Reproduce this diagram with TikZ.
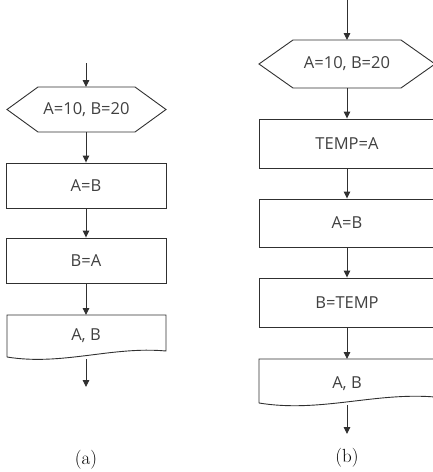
\documentclass[tikz,border=0pt]{standalone}
\usepackage{fontspec}
\newfontfamily\boxfont{Open Sans}
\usetikzlibrary{arrows.meta}
\definecolor{linegray}{HTML}{303030}
\definecolor{textgray}{HTML}{404040}
\tikzset{
  flowline/.style={draw=linegray, line width=0.9pt},
  flowarrow/.style={flowline, -{Triangle[length=7pt,width=6.5pt]}},
  txt/.style={font=\boxfont\fontsize{16.5}{19}\selectfont, text=textgray, inner sep=0pt},
  procbox/.style={flowline, rectangle, inner sep=0pt, txt, text=textgray},
  caption/.style={font=\fontsize{19}{22}\selectfont, inner sep=0pt},
}
\begin{document}
\begin{tikzpicture}[x=1pt,y=-1pt]
\useasboundingbox (0,0) rectangle (433,472);
\clip (0,0) rectangle (433,472);

% ---------- (a): swap without a temporary ----------
\coordinate (a0) at (86,63);
\node[txt] (ah) at (86.5,109.5) {A=10, B=20};
\draw[flowline] (7,109.5) -- (38,87) -- (135,87) -- (166,109.5) -- (135,132) -- (38,132) -- cycle;
\coordinate (ahN) at (86,87);
\coordinate (ahS) at (86,132);
\node[procbox, minimum width=160pt, minimum height=45pt] (a1) at (86,185.5) {A=B};
\node[procbox, minimum width=160pt, minimum height=45pt] (a2) at (86,260.5) {B=A};
\node[txt] (ad) at (86,336) {A, B};
\draw[flowline] (7,357) -- (7,315) -- (166,315) -- (166,351)
  .. controls (112,346) and (62,366) .. (7,357);
\coordinate (adN) at (86,315);
\coordinate (adS) at (86,359);
\coordinate (aend) at (86,387);
\draw[flowarrow] (a0) -- (ahN);
\draw[flowarrow] (ahS) -- (a1.north);
\draw[flowarrow] (a1.south) -- (a2.north);
\draw[flowarrow] (a2.south) -- (adN);
\draw[flowarrow] (adS) -- (aend);
\node[caption] (capa) at (86,460) {(a)};

% ---------- (b): swap through TEMP ----------
\coordinate (b0) at (347,0);
\node[txt] (bh) at (347,64) {A=10, B=20};
\draw[flowline] (259,64) -- (293,40) -- (401,40) -- (435,64) -- (401,88) -- (293,88) -- cycle;
\coordinate (bhN) at (347,40);
\coordinate (bhS) at (347,88);
\node[procbox, minimum width=176pt, minimum height=49pt] (b1) at (347,143.5) {TEMP=A};
\node[procbox, minimum width=176pt, minimum height=48pt] (b2) at (347,223) {A=B};
\node[procbox, minimum width=176pt, minimum height=49pt] (b3) at (347,302.5) {B=TEMP};
\node[txt] (bd) at (347,384) {A, B};
\draw[flowline] (259,403) -- (259,359) -- (435,359) -- (435,397)
  .. controls (375,392) and (320,413) .. (259,403);
\coordinate (bdN) at (347,359);
\coordinate (bdS) at (347,405);
\coordinate (bend) at (347,434);
\draw[flowarrow] (b0) -- (bhN);
\draw[flowarrow] (bhS) -- (b1.north);
\draw[flowarrow] (b1.south) -- (b2.north);
\draw[flowarrow] (b2.south) -- (b3.north);
\draw[flowarrow] (b3.south) -- (bdN);
\draw[flowarrow] (bdS) -- (bend);
\node[caption] (capb) at (347,458) {(b)};
\end{tikzpicture}
\end{document}
